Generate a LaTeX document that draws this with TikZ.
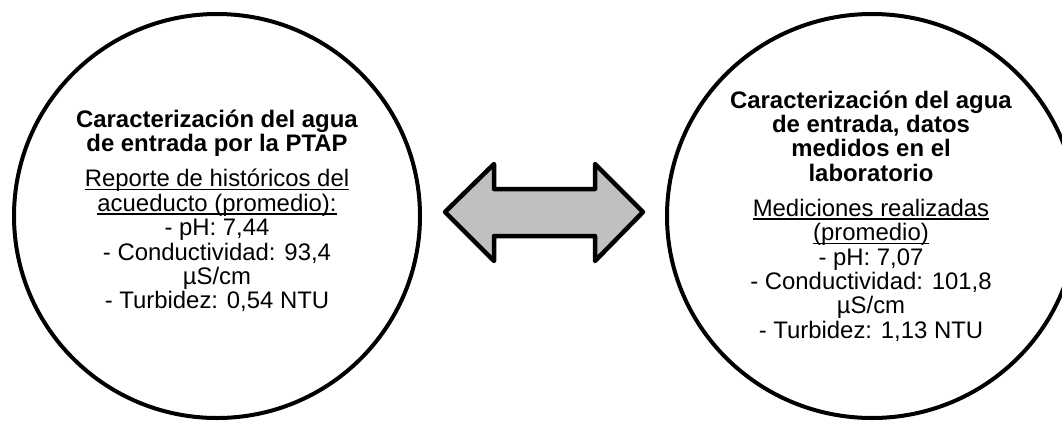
\documentclass[tikz,border=0pt]{standalone}
\usepackage{fontspec}
\setmainfont{Liberation Sans}
\usetikzlibrary{shapes.geometric}
\newcommand{\myul}[1]{\setbox0\hbox{#1}\rlap{\rule[-3.2pt]{\wd0}{1.4pt}}\box0}
\tikzset{
  bubble/.style={ellipse, draw=black, line width=4pt, inner sep=0pt, fill=white},
  bubbletext/.style={align=center, inner sep=0pt, font=\fontsize{23.9}{24.4}\selectfont},
  dblarrow/.style={draw=black, fill=arrowgray, line width=4.5pt, line join=round}
}
\definecolor{arrowgray}{HTML}{C0C0C0}
\begin{document}
\begin{tikzpicture}[x=1pt,y=-1pt]
\useasboundingbox (0,0) rectangle (1062,421);
\clip (0,0) rectangle (1062,421);
\node[bubble, minimum width=406pt, minimum height=404pt] (left) at (217,216) {};
\node[bubble, minimum width=410pt, minimum height=404pt] (right) at (872,216) {};
\node[bubbletext] (lefttext) at (217,211) {%
\textbf{Caracterización del agua}\\
\textbf{de entrada por la PTAP}\\[10.6pt]
\myul{Reporte de históricos del}\\
\myul{acueducto (promedio):}\\
- pH: 7,44\\
- Conductividad: 93,4\\
µS/cm\\
- Turbidez: 0,54 NTU};
\node[bubbletext] (righttext) at (871,216) {%
\textbf{Caracterización del agua}\\
\textbf{de entrada, datos}\\
\textbf{medidos en el}\\
\textbf{laboratorio}\\[10.6pt]
\myul{Mediciones realizadas}\\
\myul{(promedio)}\\
- pH: 7,07\\
- Conductividad: 101,8\\
µS/cm\\
- Turbidez: 1,13 NTU};
\coordinate (ltip) at (445,212);
\coordinate (rtip) at (643,212);
\draw[dblarrow] (ltip) -- (494,164) -- (494,189) -- (595,189) -- (595,164) -- (rtip)
  -- (595,261) -- (595,236) -- (494,236) -- (494,261) -- cycle;
\end{tikzpicture}
\end{document}
